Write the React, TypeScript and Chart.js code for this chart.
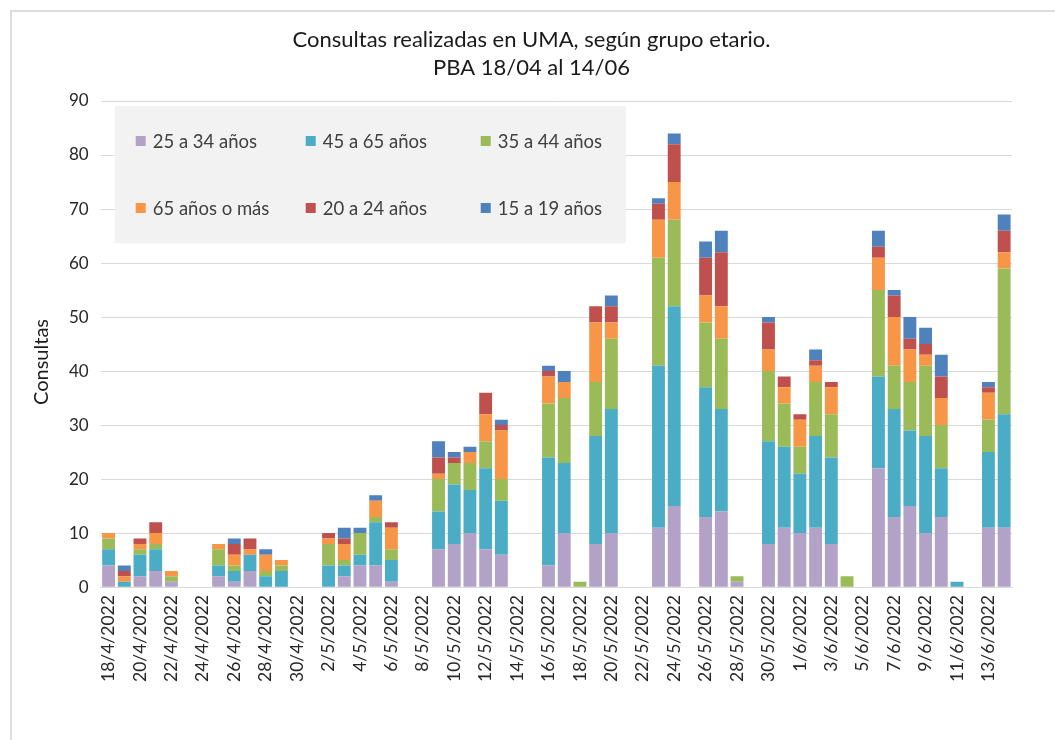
import React, { useEffect, useRef } from "react";
import { Chart, registerables } from "chart.js";

Chart.register(...registerables);

const titleLines = ["Consultas realizadas en UMA, según grupo etario.", "PBA 18/04 al 14/06"];
const yAxisTitle = "Consultas";

const dates = [
  "18/4/2022", "19/4/2022", "20/4/2022", "21/4/2022", "22/4/2022", "23/4/2022", "24/4/2022", "25/4/2022",
  "26/4/2022", "27/4/2022", "28/4/2022", "29/4/2022", "30/4/2022", "1/5/2022", "2/5/2022", "3/5/2022",
  "4/5/2022", "5/5/2022", "6/5/2022", "7/5/2022", "8/5/2022", "9/5/2022", "10/5/2022", "11/5/2022",
  "12/5/2022", "13/5/2022", "14/5/2022", "15/5/2022", "16/5/2022", "17/5/2022", "18/5/2022", "19/5/2022",
  "20/5/2022", "21/5/2022", "22/5/2022", "23/5/2022", "24/5/2022", "25/5/2022", "26/5/2022", "27/5/2022",
  "28/5/2022", "29/5/2022", "30/5/2022", "31/5/2022", "1/6/2022", "2/6/2022", "3/6/2022", "4/6/2022",
  "5/6/2022", "6/6/2022", "7/6/2022", "8/6/2022", "9/6/2022", "10/6/2022", "11/6/2022", "12/6/2022",
  "13/6/2022", "14/6/2022",
];

// 25 a 34 años
const age25to34 = [
  4, 0, 2, 3, 1, 0, 0, 2, 1, 3, 0, 0, 0, 0, 0, 2, 4, 4, 1, 0, 0, 7, 8, 10, 7, 6, 0, 0, 4, 10, 0, 8,
  10, 0, 0, 11, 15, 0, 13, 14, 1, 0, 8, 11, 10, 11, 8, 0, 0, 22, 13, 15, 10, 13, 0, 0, 11, 11,
];
// 45 a 65 años
const age45to65 = [
  3, 1, 4, 4, 0, 0, 0, 2, 2, 3, 2, 3, 0, 0, 4, 2, 2, 8, 4, 0, 0, 7, 11, 8, 15, 10, 0, 0, 20, 13, 0, 20,
  23, 0, 0, 30, 37, 0, 24, 19, 0, 0, 19, 15, 11, 17, 16, 0, 0, 17, 20, 14, 18, 9, 1, 0, 14, 21,
];
// 35 a 44 años
const age35to44 = [
  2, 0, 1, 1, 1, 0, 0, 3, 1, 0, 1, 1, 0, 0, 4, 1, 4, 1, 2, 0, 0, 6, 4, 5, 5, 4, 0, 0, 10, 12, 1, 10,
  13, 0, 0, 20, 16, 0, 12, 13, 1, 0, 13, 8, 5, 10, 8, 2, 0, 16, 8, 9, 13, 8, 0, 0, 6, 27,
];
// 65 años o más
const age65plus = [
  1, 1, 1, 2, 1, 0, 0, 1, 2, 1, 3, 1, 0, 0, 1, 3, 0, 3, 4, 0, 0, 1, 0, 2, 5, 9, 0, 0, 5, 3, 0, 11,
  3, 0, 0, 7, 7, 0, 5, 6, 0, 0, 4, 3, 5, 3, 5, 0, 0, 6, 9, 6, 2, 5, 0, 0, 5, 3,
];
// 20 a 24 años
const age20to24 = [
  0, 1, 1, 2, 0, 0, 0, 0, 2, 2, 0, 0, 0, 0, 1, 1, 0, 0, 1, 0, 0, 3, 1, 0, 4, 1, 0, 0, 1, 0, 0, 3,
  3, 0, 0, 3, 7, 0, 7, 10, 0, 0, 5, 2, 1, 1, 1, 0, 0, 2, 4, 2, 2, 4, 0, 0, 1, 4,
];
// 15 a 19 años
const age15to19 = [
  0, 1, 0, 0, 0, 0, 0, 0, 1, 0, 1, 0, 0, 0, 0, 2, 1, 1, 0, 0, 0, 3, 1, 1, 0, 1, 0, 0, 1, 2, 0, 0,
  2, 0, 0, 1, 2, 0, 3, 4, 0, 0, 1, 0, 0, 2, 0, 0, 0, 3, 1, 4, 3, 4, 0, 0, 1, 3,
];

const seriesLabels = ["25 a 34 años", "45 a 65 años", "35 a 44 años", "65 años o más", "20 a 24 años", "15 a 19 años"];
const seriesData = [age25to34, age45to65, age35to44, age65plus, age20to24, age15to19];
const seriesColors = ["#B3A2C7", "#4BACC6", "#9BBB59", "#F79646", "#C0504D", "#4F81BD"];

const FONT = "Lato, 'Open Sans', sans-serif";

const legendBoxPlugin = {
  id: "legendBox",
  afterDatasetsDraw(chart: any) {
    const { ctx, chartArea } = chart;
    const x0 = chartArea.left + 14;
    const y0 = chartArea.top + 5;
    const w = 511;
    const h = 137;
    const cols = [21, 191, 366];
    const rows = [35, 102];
    ctx.save();
    ctx.fillStyle = "#F2F2F2";
    ctx.fillRect(x0, y0, w, h);
    ctx.font = `18.5px ${FONT}`;
    ctx.textBaseline = "middle";
    ctx.textAlign = "left";
    chart.data.datasets.forEach((ds: any, i: number) => {
      const cx = x0 + cols[i % 3];
      const cy = y0 + rows[Math.floor(i / 3)];
      ctx.fillStyle = ds.backgroundColor;
      ctx.fillRect(cx, cy - 5, 10, 10);
      ctx.fillStyle = "#404040";
      ctx.fillText(ds.label, cx + 17, cy + 1);
    });
    ctx.restore();
  },
};

const textPlugin = {
  id: "customTexts",
  afterDraw(chart: any) {
    const { ctx, width } = chart;
    ctx.save();
    ctx.fillStyle = "#1a1a1a";
    ctx.textAlign = "center";
    ctx.textBaseline = "middle";
    ctx.font = `22px ${FONT}`;
    ctx.fillText(titleLines[0], width / 2 - 2, 28);
    ctx.fillText(titleLines[1], width / 2 - 2, 56);
    ctx.translate(30, 350);
    ctx.rotate(-Math.PI / 2);
    ctx.font = `20px ${FONT}`;
    ctx.fillText(yAxisTitle, 0, 0);
    ctx.restore();
  },
};

export default function App() {
  const canvasRef = useRef<HTMLCanvasElement | null>(null);

  useEffect(() => {
    if (!canvasRef.current) return;
    const chart = new Chart(canvasRef.current, {
      type: "bar",
      data: {
        labels: dates,
        datasets: seriesLabels.map((label, i) => ({
          label,
          data: seriesData[i],
          backgroundColor: seriesColors[i],
          borderWidth: 0,
          categoryPercentage: 1,
          barPercentage: 0.82,
        })),
      },
      options: {
        animation: false,
        responsive: false,
        maintainAspectRatio: false,
        layout: { padding: { left: 18, right: 43, top: 89, bottom: 50 } },
        plugins: {
          legend: { display: false },
          tooltip: { enabled: false },
          title: { display: false },
        },
        scales: {
          x: {
            stacked: true,
            grid: { display: false, drawTicks: false },
            border: { display: true, color: "#D9D9D9", width: 1 },
            ticks: {
              autoSkip: false,
              minRotation: 90,
              maxRotation: 90,
              padding: 8,
              color: "#262626",
              font: { family: FONT, size: 17.5 },
              callback: (_v: any, idx: number) => (idx % 2 === 0 ? dates[idx] : ""),
            },
          },
          y: {
            stacked: true,
            min: 0,
            max: 90,
            grid: { color: "#D9D9D9", lineWidth: 1, drawTicks: false },
            border: { display: false },
            ticks: {
              stepSize: 10,
              padding: 12,
              color: "#262626",
              font: { family: FONT, size: 17 },
            },
            title: {
              display: true,
              text: yAxisTitle,
              color: "rgba(0,0,0,0)",
              font: { family: FONT, size: 20 },
              padding: { top: 0, bottom: 3 },
            },
          },
        },
      },
      plugins: [legendBoxPlugin, textPlugin],
    });
    return () => chart.destroy();
  }, []);

  return (
    <div
      style={{
        position: "fixed",
        left: 10,
        top: 10,
        width: 1045,
        height: 730,
        borderLeft: "2px solid #DDDDDD",
        borderTop: "2px solid #DDDDDD",
        background: "#fff",
        boxSizing: "border-box",
      }}
    >
      <canvas ref={canvasRef} width={1043} height={728} style={{ display: "block" }} />
    </div>
  );
}
